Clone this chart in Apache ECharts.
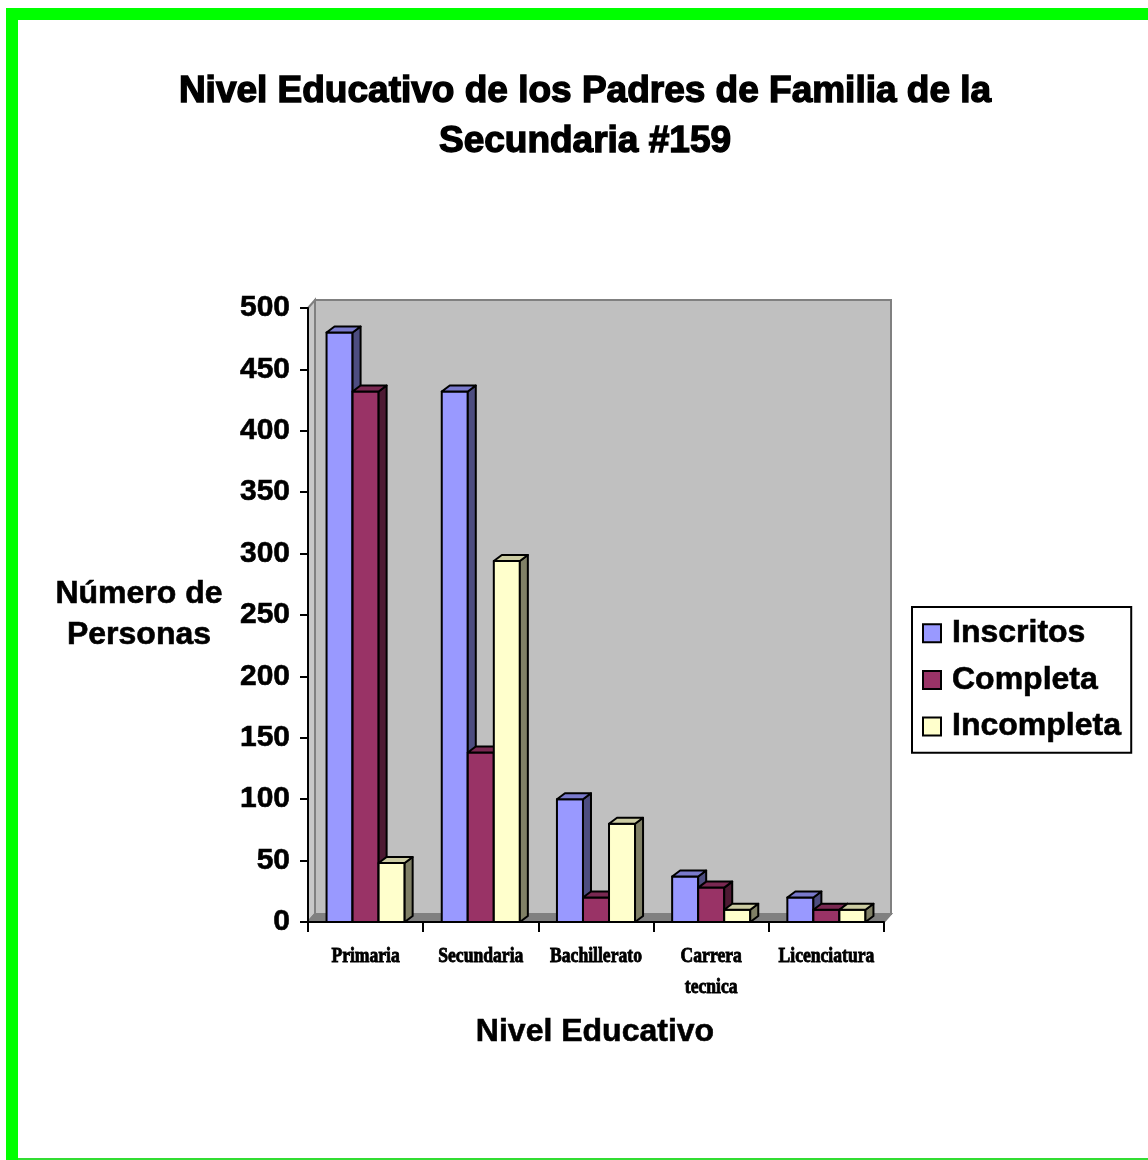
<!DOCTYPE html>
<html>
<head>
<meta charset="utf-8">
<script src="https://cdn.jsdelivr.net/npm/echarts@6/dist/echarts.min.js"></script>
<style>
  html, body { margin: 0; padding: 0; background: #fff; }
  #chart { position: absolute; left: 0; top: 0; width: 1148px; height: 1160px; }
  .frame { position: absolute; background: #00ff00; }
</style>
</head>
<body>
<div id="chart"></div>
<div class="frame" style="left:6px; top:8px; width:1142px; height:12px;"></div>
<div class="frame" style="left:6px; top:8px; width:12px; height:1152px;"></div>
<div class="frame" style="left:18px; top:1158px; width:1130px; height:2px; background:#33dd33;"></div>
<script>
// chart data
const categories = ["Primaria", "Secundaria", "Bachillerato", "Carrera\ntecnica", "Licenciatura"];
const inscritos = [480, 432, 100, 37, 20];
const completa = [432, 138, 20, 28, 10];
const incompleta = [48, 294, 80, 10, 10];
const yTicks = { min: 0, max: 500, interval: 50 };

const FONT = "'Liberation Sans', Arial, sans-serif";
const BAR_DX = 8, BAR_DY = -6;   // 3d depth of bars
const WALL_DX = 7, WALL_DY = -8; // 3d depth of the back wall

// front / side / top colours for each series
const palette = [
  { front: "#9999ff", side: "#4d4d80", top: "#7a7acc" },
  { front: "#993366", side: "#4d1a33", top: "#7a2952" },
  { front: "#ffffcc", side: "#808066", top: "#ccccA3" },
];

function renderWall(params, api) {
  const cs = params.coordSys;
  const x = cs.x, y = cs.y, w = cs.width, h = cs.height;
  const edge = { stroke: "#808080", lineWidth: 2 };
  return {
    type: "group",
    children: [
      { type: "rect", shape: { x: x + WALL_DX, y: y + WALL_DY, width: w, height: h },
        style: Object.assign({ fill: "#c0c0c0" }, edge) },
      { type: "polygon", shape: { points: [[x, y], [x + WALL_DX, y + WALL_DY], [x + WALL_DX, y + h + WALL_DY], [x, y + h]] },
        style: Object.assign({ fill: "#c8c8c8" }, edge) },
      { type: "polygon", shape: { points: [[x, y + h], [x + WALL_DX, y + h + WALL_DY], [x + w + WALL_DX, y + h + WALL_DY], [x + w, y + h]] },
        style: Object.assign({ fill: "#808080" }, edge) },
    ],
  };
}

function barSeries(name, values, idx) {
  const c = palette[idx];
  return {
    name: name,
    type: "custom",
    itemStyle: { color: c.front },
    data: values.map((v, i) => [i, v]),
    renderItem: function (params, api) {
      const cat = api.value(0);
      const base = api.coord([cat, 0]);
      const top = api.coord([cat, api.value(1)]);
      const band = api.size([1, 0])[0];
      const bw = band * 0.226;
      const x0 = base[0] - 1.5 * bw + idx * bw;
      const x1 = x0 + bw;
      const y0 = base[1], y1 = top[1];
      const line = { stroke: "#000", lineWidth: 2, lineJoin: "round" };
      return {
        type: "group",
        children: [
          { type: "rect", shape: { x: x0, y: y1, width: bw, height: y0 - y1 },
            style: Object.assign({ fill: c.front }, line) },
          { type: "polygon", shape: { points: [[x1, y1], [x1 + BAR_DX, y1 + BAR_DY], [x1 + BAR_DX, y0 + BAR_DY], [x1, y0]] },
            style: Object.assign({ fill: c.side }, line) },
          { type: "polygon", shape: { points: [[x0, y1], [x0 + BAR_DX, y1 + BAR_DY], [x1 + BAR_DX, y1 + BAR_DY], [x1, y1]] },
            style: Object.assign({ fill: c.top }, line) },
        ],
      };
    },
  };
}

function label(text, x, y, size, weight) {
  return { type: "text", x: x, y: y, z: 10, style: { text: text, font: "bold " + size + "px " + FONT,
    fill: "#000", stroke: "#000", lineWidth: weight, align: "center", verticalAlign: "middle" } };
}

const titles = [
  label("Nivel Educativo de los Padres de Familia de la", 585, 92, 37, 1.4),
  label("Secundaria #159", 585, 142, 37, 1.4),
  label("Número de", 139, 594, 32, 0.6),
  label("Personas", 139, 635, 32, 0.6),
  label("Nivel Educativo", 595, 1032, 32, 0.6),
];

const chart = echarts.init(document.getElementById("chart"));
chart.setOption({
  animation: false,
  backgroundColor: "transparent",
  graphic: titles,
  grid: { left: 308, right: 264, top: 308, bottom: 238 },
  legend: {
    data: ["Inscritos", "Completa", "Incompleta"],
    orient: "vertical",
    left: 912,
    top: 607,
    padding: [10, 10, 10, 10],
    backgroundColor: "#fff",
    borderColor: "#000",
    borderWidth: 2,
    borderRadius: 0,
    icon: "rect",
    itemWidth: 18,
    itemHeight: 18,
    itemGap: 14,
    itemStyle: { borderColor: "#000", borderWidth: 2 },
    textStyle: { fontFamily: FONT, fontWeight: "bold", fontSize: 32, color: "#000", lineHeight: 32,
      padding: [0, 0, 0, 6], textBorderColor: "#000", textBorderWidth: 0.6 },
  },
  xAxis: {
    type: "category",
    data: categories,
    boundaryGap: true,
    axisLine: { show: true, lineStyle: { color: "#000", width: 2 } },
    axisTick: { show: true, alignWithLabel: false, interval: 0, length: 10, lineStyle: { color: "#000", width: 2 } },
    axisLabel: { show: false },
  },
  yAxis: {
    type: "value",
    min: yTicks.min,
    max: yTicks.max,
    interval: yTicks.interval,
    axisLine: { show: true, lineStyle: { color: "#000", width: 2 } },
    axisTick: { show: true, length: 8, lineStyle: { color: "#000", width: 2 } },
    splitLine: { show: false },
    axisLabel: { margin: 18, fontFamily: FONT, fontWeight: "bold", fontSize: 30, color: "#000",
      textBorderColor: "#000", textBorderWidth: 0.6 },
  },
  series: [
    { name: "wall", type: "custom", silent: true, z: 0, data: [[0, 0]], renderItem: renderWall },
    barSeries("Inscritos", inscritos, 0),
    barSeries("Completa", completa, 1),
    barSeries("Incompleta", incompleta, 2),
  ],
});

// condensed serif category labels, placed from the axis scale
const axisY = chart.convertToPixel({ yAxisIndex: 0 }, 0);
const catLabels = categories.map((name, i) => {
  const lines = name.split("\n").length;
  return {
    type: "text",
    x: chart.convertToPixel({ xAxisIndex: 0 }, i),
    y: axisY + 34 + (lines - 1) * 15.5, // keep multi-line labels anchored on their first line
    scaleX: 0.8,
    z: 10,
    style: {
      text: name,
      font: "bold 22px 'Liberation Serif', 'DejaVu Serif', serif",
      lineHeight: 31,
      fill: "#000",
      stroke: "#000",
      lineWidth: 0.9,
      align: "center",
      verticalAlign: "middle",
    },
  };
});
chart.setOption({ graphic: titles.concat(catLabels) });
</script>
</body>
</html>
